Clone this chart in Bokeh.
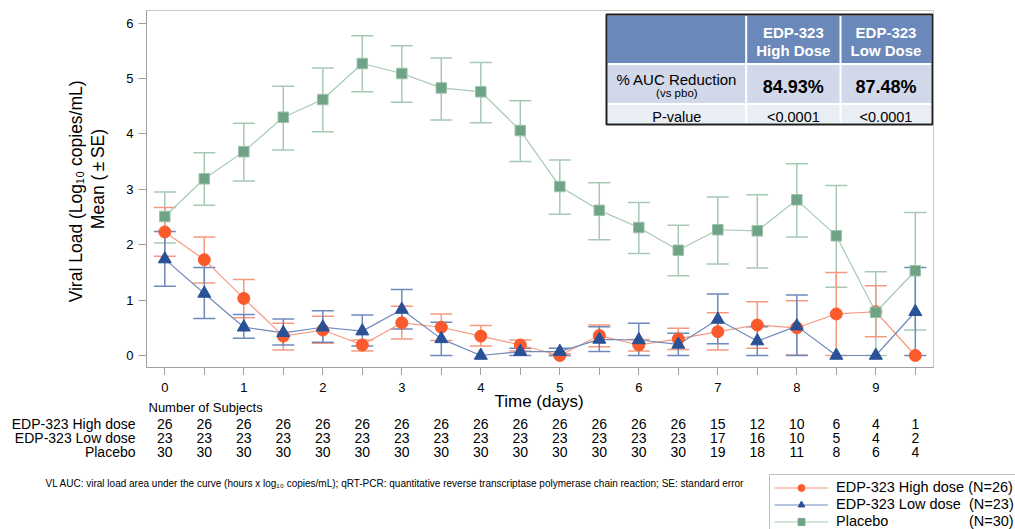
import math
from bokeh.plotting import figure
from bokeh.layouts import column, row
from bokeh.models import (Range1d, FixedTicker, Whisker, TeeHead, ColumnDataSource,
                          Label, Legend, LegendItem)
from bokeh.core.properties import value
from bokeh.embed import file_html
from bokeh.resources import INLINE

# ---------------- data ----------------
time_days = [0, 0.5, 1, 1.5, 2, 2.5, 3, 3.5, 4, 4.5, 5, 5.5, 6, 6.5, 7, 7.5, 8, 8.5, 9, 9.5]
label_days = [0, 1, 2, 3, 4, 5, 6, 7, 8, 9]
y_ticks = [0, 1, 2, 3, 4, 5, 6]

high_mean = [2.23, 1.73, 1.03, 0.35, 0.46, 0.19, 0.59, 0.51, 0.35, 0.19, 0.00, 0.36, 0.19, 0.30, 0.43, 0.55, 0.50, 0.75, 0.79, 0.00]
high_upper = [2.67, 2.14, 1.37, 0.58, 0.71, 0.28, 0.89, 0.75, 0.54, 0.28, 0.03, 0.55, 0.29, 0.49, 0.77, 0.97, 0.99, 1.50, 1.26, None]
high_lower = [1.79, 1.31, 0.68, 0.10, 0.22, 0.08, 0.30, 0.27, 0.17, 0.08, 0.00, 0.16, 0.08, 0.11, 0.10, 0.13, 0.01, 0.00, 0.34, None]

low_mean = [1.74, 1.12, 0.51, 0.41, 0.51, 0.44, 0.83, 0.30, 0.00, 0.07, 0.07, 0.29, 0.28, 0.20, 0.65, 0.26, 0.53, 0.00, 0.00, 0.79]
low_upper = [2.24, 1.59, 0.74, 0.66, 0.81, 0.73, 1.19, 0.60, None, 0.13, 0.13, 0.52, 0.58, 0.40, 1.11, 0.52, 1.09, None, None, 1.59]
low_lower = [1.25, 0.67, 0.31, 0.19, 0.24, 0.17, 0.48, 0.00, None, 0.00, 0.00, 0.07, 0.00, 0.00, 0.21, 0.00, 0.00, None, None, 0.00]

pbo_mean = [2.51, 3.19, 3.68, 4.30, 4.62, 5.27, 5.09, 4.83, 4.76, 4.06, 3.05, 2.62, 2.31, 1.90, 2.27, 2.25, 2.81, 2.16, 0.78, 1.53]
pbo_upper = [2.95, 3.66, 4.19, 4.86, 5.19, 5.77, 5.59, 5.37, 5.29, 4.60, 3.53, 3.12, 2.76, 2.35, 2.86, 2.90, 3.46, 3.07, 1.51, 2.58]
pbo_lower = [2.03, 2.71, 3.15, 3.71, 4.04, 4.76, 4.57, 4.25, 4.20, 3.50, 2.55, 2.09, 1.84, 1.44, 1.65, 1.58, 2.14, 1.23, 0.00, 0.46]

n_high = [26, 26, 26, 26, 26, 26, 26, 26, 26, 26, 26, 26, 26, 26, 15, 12, 10, 6, 4, 1]
n_low = [23, 23, 23, 23, 23, 23, 23, 23, 23, 23, 23, 23, 23, 23, 17, 16, 10, 5, 4, 2]
n_pbo = [30, 30, 30, 30, 30, 30, 30, 30, 30, 30, 30, 30, 30, 30, 19, 18, 11, 8, 6, 4]
row_names = ["EDP-323 High dose", "EDP-323 Low dose", "Placebo"]

legend_labels = ["EDP-323 High dose (N=26)",
                 "EDP-323 Low dose\u00a0\u00a0(N=23)",
                 "Placebo" + "\u00a0" * 20 + "(N=30)"]

table_cols = ["EDP-323\nHigh Dose", "EDP-323\nLow Dose"]
auc_reduction = ["84.93%", "87.48%"]
p_values = ["<0.0001", "<0.0001"]

y_title = ["Viral Load (Log\u2081\u2080 copies/mL)", "Mean (\u2009\u00b1\u2009SE)"]
x_title = "Time (days)"
footnote = ("VL AUC: viral load area under the curve (hours x log\u2081\u2080 copies/mL); qRT-PCR: quantitative "
            "reverse transcriptase polymerase chain reaction; SE: standard error")

# ---------------- style / layout ----------------
FONT = "Liberation Sans"
C_HIGH, C_HIGH_L = "#fb5a2c", "#f59a80"
C_LOW, C_LOW_L = "#2a5196", "#6f89bb"
C_PBO, C_PBO_L = "#6fa386", "#a7c9b4"

TOTAL_W = 1015
TOTAL_H = 529
LEFT_W = 110
TOP_H = 375          # main plot: frame 10..367 + 8px ticks
BOT_TOP_BORDER = 16  # room for the x tick labels (axis above bottom strip)
BOT_H = TOTAL_H - TOP_H

# pixel (page) -> data helpers for layout positioning
X0, XS = 164.3, 79.0
Y0, YS = 355.0, 55.4
def px2x(px):
    return (px - X0) / XS
def px2y(py):
    return (Y0 - py) / YS

# ---------------- main plot ----------------
p = figure(width=TOTAL_W - LEFT_W, height=TOP_H, output_backend="svg", toolbar_location=None,
           x_range=Range1d(px2x(146), px2x(933)), y_range=Range1d(px2y(367), px2y(10)),
           min_border_left=146 - LEFT_W, min_border_right=TOTAL_W - 933,
           min_border_top=10, min_border_bottom=TOP_H - 367)
p.background_fill_color = "white"
p.border_fill_color = "white"
p.outline_line_color = "#c8c8c8"
p.grid.visible = False

p.xaxis.ticker = FixedTicker(ticks=time_days)
p.xaxis.major_label_text_color = None   # tick labels are drawn by the strip's axis below
p.xaxis.major_label_standoff = 0
p.yaxis.ticker = FixedTicker(ticks=y_ticks)
for ax in (p.xaxis, p.yaxis):
    ax.axis_line_color = "#a0a0a0"
    ax.major_tick_line_color = "#a0a0a0"
    ax.major_tick_out = 8
    ax.major_tick_in = 0
    ax.minor_tick_line_color = None
p.yaxis.major_label_text_font = FONT
p.yaxis.major_label_text_font_size = "13px"
p.yaxis.major_label_text_color = "black"
p.yaxis.major_label_standoff = 5

def add_whisker(lo, hi, color):
    idx = [i for i in range(len(time_days)) if hi[i] is not None]
    src = ColumnDataSource(dict(x=[time_days[i] for i in idx],
                                lower=[lo[i] for i in idx],
                                upper=[hi[i] for i in idx]))
    w = Whisker(source=src, base="x", upper="upper", lower="lower",
                line_color=color, line_width=1.5,
                upper_head=TeeHead(size=22, line_color=color, line_width=1.5),
                lower_head=TeeHead(size=22, line_color=color, line_width=1.5))
    p.add_layout(w)

add_whisker(pbo_lower, pbo_upper, C_PBO_L)
add_whisker(high_lower, high_upper, C_HIGH_L)
add_whisker(low_lower, low_upper, C_LOW_L)

p.line(time_days, pbo_mean, line_color=C_PBO_L, line_width=1.2)
p.line(time_days, high_mean, line_color=C_HIGH_L, line_width=1.2)
p.line(time_days, low_mean, line_color=C_LOW_L, line_width=1.2)
p.scatter(time_days, high_mean, marker="circle", size=12, fill_color=C_HIGH, line_color=C_HIGH)
p.scatter(time_days, low_mean, marker="triangle", size=13, fill_color=C_LOW, line_color=C_LOW)
p.scatter(time_days, pbo_mean, marker="square", size=10.5, fill_color=C_PBO, line_color="#9cc2ab", line_width=1)

# results table (top right, inside the frame)
tl, tr, tt, tb = 607, 931, 15, 123
c1, c2 = 745.7, 840.0
r1, r2 = 63.5, 103.5
p.quad(left=[px2x(tl)], right=[px2x(tr)], top=[px2y(tt)], bottom=[px2y(r1)], fill_color="#6a88b9", line_color=None)
p.quad(left=[px2x(tl)], right=[px2x(tr)], top=[px2y(r1)], bottom=[px2y(r2)], fill_color="#d1d8e9", line_color=None)
p.quad(left=[px2x(tl)], right=[px2x(tr)], top=[px2y(r2)], bottom=[px2y(tb)], fill_color="#e9edf4", line_color=None)
p.segment(x0=[px2x(c1), px2x(c2), px2x(tl), px2x(tl)], x1=[px2x(c1), px2x(c2), px2x(tr), px2x(tr)],
          y0=[px2y(tt), px2y(tt), px2y(r1), px2y(r2)], y1=[px2y(tb), px2y(tb), px2y(r1), px2y(r2)],
          line_color="white", line_width=2)
p.quad(left=[px2x(tl - 1)], right=[px2x(tr + 1)], top=[px2y(tt - 1)], bottom=[px2y(tb + 1)],
       fill_color=None, line_color="#202020", line_width=2)

def lab(px, py, text, size, bold=False, color="black"):
    p.add_layout(Label(x=px2x(px), y=px2y(py), text=text, text_font=FONT,
                       text_font_size=f"{size}px", text_align="center", text_baseline="middle",
                       text_color=color, text_font_style="bold" if bold else "normal"))

col_x = [(c1 + c2) / 2, (c2 + tr) / 2]
for cx, head, auc, pv in zip(col_x, table_cols, auc_reduction, p_values):
    l1, l2 = head.split("\n")
    lab(cx, 31.5, l1, 15, bold=True, color="white")
    lab(cx, 49.5, l2, 15, bold=True, color="white")
    lab(cx, 86, auc, 18, bold=True)
    lab(cx, 116, pv, 14.5)
lab((tl + c1) / 2, 78.5, "% AUC Reduction", 15)
lab((tl + c1) / 2, 92, "(vs pbo)", 11.5)
lab((tl + c1) / 2, 116, "P-value", 14.5)

# ---------------- left strip: y-axis title ----------------
pl = figure(width=LEFT_W, height=TOP_H, output_backend="svg", toolbar_location=None,
            x_range=Range1d(0, LEFT_W), y_range=Range1d(TOP_H, 0),
            x_axis_location=None, y_axis_location=None, min_border=0)
pl.outline_line_color = None
pl.grid.visible = False
pl.text(x=[75, 97], y=[190, 177], text=y_title, angle=math.pi / 2,
        text_font=value(FONT), text_font_size="17.5px", text_align="center",
        text_baseline="middle", text_color="black")

# ---------------- bottom strip (x tick labels, subjects table, footnote, legend) ----------------
F_TOP = TOP_H + BOT_TOP_BORDER   # page y of the strip's frame top
pb = figure(width=TOTAL_W, height=BOT_H, output_backend="svg", toolbar_location=None,
            x_range=Range1d(px2x(0), px2x(TOTAL_W)), y_range=Range1d(TOTAL_H, F_TOP),
            x_axis_location="above", y_axis_location=None,
            min_border_left=0, min_border_right=0, min_border_bottom=0,
            min_border_top=BOT_TOP_BORDER)
pb.outline_line_color = None
pb.grid.visible = False
pb.xaxis.ticker = FixedTicker(ticks=label_days)
pb.xaxis.axis_line_color = None
pb.xaxis.major_tick_line_color = None
pb.xaxis.minor_tick_line_color = None
pb.xaxis.major_tick_out = 0
pb.xaxis.major_tick_in = 0
pb.xaxis.major_label_standoff = 0
pb.xaxis.major_label_text_font = FONT
pb.xaxis.major_label_text_font_size = "13px"
pb.xaxis.major_label_text_color = "black"

def btxt(xs, py, texts, size, align="center", xdata=False):
    xv = xs if xdata else [px2x(v) for v in xs]
    pb.text(x=xv, y=[py] * len(texts), text=texts, text_font=value(FONT),
            text_font_size=f"{size}px", text_align=align, text_baseline="middle",
            text_color="black")

btxt([538.5], 401, [x_title], 17)
btxt([148], 407, ["Number of Subjects"], 13, align="left")
for py, name, counts in zip([423, 437, 451.5], row_names, [n_high, n_low, n_pbo]):
    btxt([135], py, [name], 14, align="right")
    btxt(time_days, py, [str(c) for c in counts], 14, xdata=True)
btxt([45], 483, [footnote], 10, align="left")

items = []
for label_text, lc, mc, mk in zip(legend_labels, [C_HIGH_L, C_LOW_L, C_PBO_L],
                                  [C_HIGH, C_LOW, C_PBO], ["circle", "triangle", "square"]):
    # legend proxies: one point placed outside the visible strip
    lr = pb.line([px2x(-300), px2x(-200)], [-100, -100], line_color=lc, line_width=1.2)
    sr = pb.scatter([px2x(-250)], [-100], marker=mk, size=7, fill_color=mc, line_color=mc)
    items.append(LegendItem(label=label_text, renderers=[lr, sr]))
legend = Legend(items=items, location=(769, -5.5), padding=4, spacing=0, margin=0,
                glyph_width=54, glyph_height=17, label_height=17, label_standoff=8,
                label_text_font=FONT, label_text_font_size="14.5px", label_text_color="black",
                border_line_color="#808080", border_line_width=1, background_fill_color="white",
                background_fill_alpha=1.0)
pb.add_layout(legend, "center")

layout = column(row(pl, p), pb)
open("out.html", "w").write(file_html(layout, INLINE))
